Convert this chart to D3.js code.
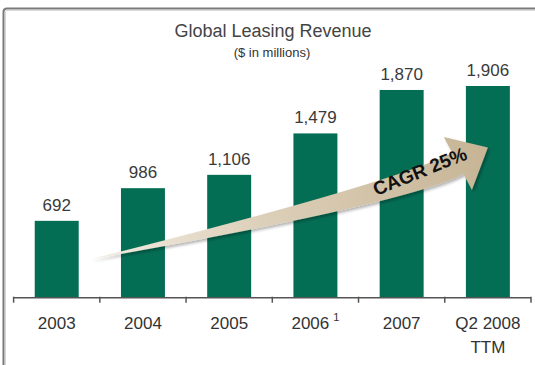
<!DOCTYPE html>
<html>
<head>
<meta charset="utf-8">
<script src="https://cdn.jsdelivr.net/npm/d3@7/dist/d3.min.js"></script>
<style>
  html, body { margin: 0; padding: 0; background: #fff; }
  svg { display: block; font-family: Arial, "Liberation Sans", sans-serif; }
</style>
</head>
<body>
<svg id="chart" width="535" height="365"></svg>
<script>
// Global leasing revenue, $ in millions
const categories = ["2003", "2004", "2005", "2006", "2007", "Q2 2008\nTTM"];
const revenue = [692, 986, 1106, 1479, 1870, 1906];
const footnotes = ["", "", "", "1", "", ""];
const chartTitle = "Global Leasing Revenue";
const chartSubtitle = "($ in millions)";
const cagrLabel = "CAGR 25%";

const svg = d3.select("#chart");
const W = 535, H = 365;
const axisY = 297.7;

const x = d3.scaleBand()
  .domain(categories)
  .range([13.6, 531])
  .paddingInner(0.49)
  .paddingOuter(0.245);

const y = d3.scaleLinear()
  .domain([0, 2600])
  .range([axisY, 8.9]);

const fmt = d3.format(",");

// frame: top and left rules
const frame = svg.append("g");
frame.append("path")
  .attr("d", `M3.5,${H} L3.5,12 Q3.5,8.5 7,8.5 L${W},8.5`)
  .attr("fill", "none")
  .attr("stroke", "#7a7a7a")
  .attr("stroke-width", 2);
frame.append("path")
  .attr("d", `M5.5,${H} L5.5,12 Q5.5,10.5 7,10.5 L${W},10.5`)
  .attr("fill", "none")
  .attr("stroke", "#d8d8d8")
  .attr("stroke-width", 1);

// titles
svg.append("text")
  .attr("x", 273).attr("y", 37)
  .attr("text-anchor", "middle")
  .attr("font-size", 18)
  .attr("fill", "#444")
  .text(chartTitle);
svg.append("text")
  .attr("x", 272).attr("y", 57)
  .attr("text-anchor", "middle")
  .attr("font-size", 13)
  .attr("fill", "#333")
  .text(chartSubtitle);

// bars
const data = categories.map((c, i) => ({ cat: c, value: revenue[i], note: footnotes[i] }));

svg.append("g").selectAll("rect")
  .data(data)
  .join("rect")
  .attr("x", d => x(d.cat))
  .attr("width", x.bandwidth())
  .attr("y", d => y(d.value))
  .attr("height", d => y(0) - y(d.value))
  .attr("fill", "#046e55");

// value labels
svg.append("g").selectAll("text")
  .data(data)
  .join("text")
  .attr("x", d => x(d.cat) + x.bandwidth() / 2)
  .attr("y", d => y(d.value) - 10)
  .attr("text-anchor", "middle")
  .attr("font-size", 17)
  .attr("fill", "#3a3a3a")
  .text(d => fmt(d.value));

// category axis with ticks on band boundaries
const axis = svg.append("g");
const step = x.step();
const first = x(categories[0]) - step * x.paddingInner() / 2;
const bounds = d3.range(categories.length + 1).map(i => first + i * step);
axis.append("line")
  .attr("x1", bounds[0]).attr("x2", bounds[bounds.length - 1])
  .attr("y1", axisY).attr("y2", axisY)
  .attr("stroke", "#555").attr("stroke-width", 1.5);
axis.selectAll("line.tick")
  .data(bounds)
  .join("line")
  .attr("class", "tick")
  .attr("x1", d => d).attr("x2", d => d)
  .attr("y1", axisY - 1).attr("y2", axisY + 5)
  .attr("stroke", "#555").attr("stroke-width", 1.5);

const labels = axis.selectAll("text.cat")
  .data(data)
  .join("text")
  .attr("class", "cat")
  .attr("text-anchor", "middle")
  .attr("font-size", 17)
  .attr("fill", "#333");
labels.each(function (d) {
  const t = d3.select(this);
  const cx = x(d.cat) + x.bandwidth() / 2;
  const lines = d.cat.split("\n");
  lines.forEach((ln, i) => {
    t.append("tspan").attr("x", cx).attr("y", 329 + i * 24).text(ln);
  });
  if (d.note) {
    t.append("tspan").attr("dx", 4).attr("dy", -8).attr("font-size", 11).text(d.note);
  }
});

// growth arrow annotation
const defs = svg.append("defs");
const grad = defs.append("linearGradient")
  .attr("id", "arrowFill")
  .attr("gradientUnits", "userSpaceOnUse")
  .attr("x1", 90).attr("y1", 260).attr("x2", 480).attr("y2", 150);
grad.append("stop").attr("offset", 0).attr("stop-color", "#f2ece2");
grad.append("stop").attr("offset", 0.45).attr("stop-color", "#dccfb8");
grad.append("stop").attr("offset", 1).attr("stop-color", "#c7b596");
const shadow = defs.append("filter").attr("id", "arrowShadow")
  .attr("x", "-10%").attr("y", "-30%").attr("width", "130%").attr("height", "180%");
shadow.append("feDropShadow")
  .attr("dx", 2).attr("dy", 2).attr("stdDeviation", 1.5)
  .attr("flood-color", "#000").attr("flood-opacity", 0.3);

const lastCat = categories[categories.length - 1];
const tail = [x(categories[1]) - 31, y(345)];
const tip = [x(lastCat) + x.bandwidth() / 2, y(1353)];
const ang = -28 * Math.PI / 180;
const dir = [Math.cos(ang), Math.sin(ang)];
const nrm = [-dir[1], dir[0]];
const headLen = 34, bodyHalf = 12, wingHalf = 30;
const base = [tip[0] - headLen * dir[0], tip[1] - headLen * dir[1]];
// control point where the tail and head tangents meet
const tailSlope = Math.tan(-12 * Math.PI / 180), headSlope = Math.tan(ang);
const cxp = (base[1] - headSlope * base[0] - tail[1] + tailSlope * tail[0]) / (tailSlope - headSlope);
const ctrl = [cxp, tail[1] + tailSlope * (cxp - tail[0])];
const off = (p, k) => [p[0] + k * nrm[0], p[1] + k * nrm[1]];
const pt = p => p[0].toFixed(1) + "," + p[1].toFixed(1);

const up = off(base, -bodyHalf), lo = off(base, bodyHalf);
const wu = off(base, -wingHalf), wl = off(base, wingHalf);
const cu = off(ctrl, -12), cl = off(ctrl, 12);
const arrowPath = `M${pt(tail)} Q${pt(cu)} ${pt(up)} L${pt(wu)} L${pt(tip)} L${pt(wl)} L${pt(lo)} Q${pt(cl)} ${pt(tail)} Z`;

svg.append("path")
  .attr("d", arrowPath)
  .attr("fill", "url(#arrowFill)")
  .attr("filter", "url(#arrowShadow)");

svg.append("text")
  .attr("transform", `translate(${base[0] - 38},${base[1] + 8}) rotate(-22)`)
  .attr("text-anchor", "middle")
  .attr("dominant-baseline", "central")
  .attr("font-size", 19)
  .attr("font-weight", "bold")
  .attr("fill", "#111")
  .text(cagrLabel);
</script>
</body>
</html>
